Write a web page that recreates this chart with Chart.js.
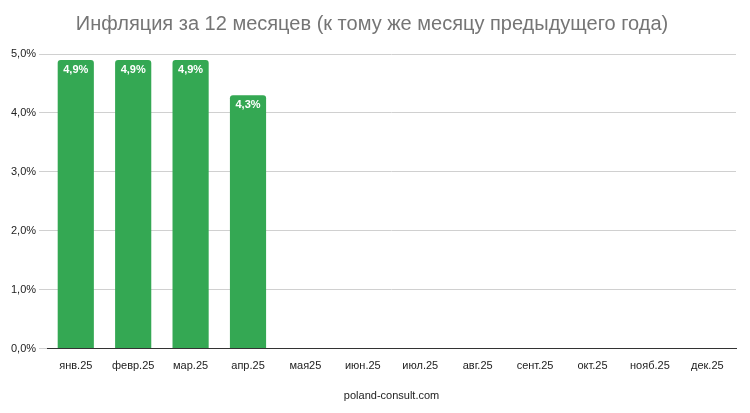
<!DOCTYPE html>
<html><head><meta charset="utf-8">
<script src="https://cdn.jsdelivr.net/npm/chart.js@4"></script>
<style>html,body{margin:0;background:#fff}#w{width:750px;height:413px}</style>
</head><body><div id="w"><canvas id="c"></canvas></div>
<script>
const categories=["янв.25","февр.25","мар.25","апр.25","мая25","июн.25","июл.25","авг.25","сент.25","окт.25","нояб.25","дек.25"];
const inflation=[4.9,4.9,4.9,4.3,null,null,null,null,null,null,null,null];
const yTicks=[0,1,2,3,4,5];
const labelPlugin={id:'lbl',afterDatasetsDraw(ch){const ctx=ch.ctx;const m=ch.getDatasetMeta(0);ctx.save();ctx.fillStyle='#fff';ctx.font='bold 11px Arial, "Liberation Sans"';ctx.textAlign='center';ctx.textBaseline='middle';
m.data.forEach((b,i)=>{const v=inflation[i];if(v==null)return;ctx.fillText(v.toFixed(1).replace('.',',')+'%',b.x,b.y+10);});ctx.restore();}};
new Chart(document.getElementById('c'),{type:'bar',
data:{labels:categories,datasets:[{data:inflation,backgroundColor:'#34A853',borderRadius:{topLeft:3,topRight:3},borderSkipped:'bottom',categoryPercentage:0.63,barPercentage:1}]},
options:{responsive:true,maintainAspectRatio:false,animation:false,
layout:{padding:{left:8,right:14,top:4,bottom:6}},
plugins:{legend:{display:false},tooltip:{enabled:false},
title:{display:true,text:'Инфляция за 12 месяцев (к тому же месяцу предыдущего года)',color:'#757575',font:{family:'Arial, "Liberation Sans"',size:20,weight:'normal'},padding:{top:8,bottom:18}}},
scales:{x:{grid:{display:false},border:{color:'#333'},ticks:{color:'#222',font:{family:'Arial, "Liberation Sans"',size:11},maxRotation:0,autoSkip:false},
title:{display:true,text:'poland-consult.com',color:'#222',font:{family:'Arial, "Liberation Sans"',size:11},padding:{top:14}}},
y:{min:0,max:5,afterBuildTicks(a){a.ticks=yTicks.map(v=>({value:v}));},grid:{color:'#d0d0d0'},border:{display:false},
ticks:{color:'#222',font:{family:'Arial, "Liberation Sans"',size:11},callback:v=>v.toFixed(1).replace('.',',')+'%'}}}},
plugins:[labelPlugin]});
</script></body></html>
